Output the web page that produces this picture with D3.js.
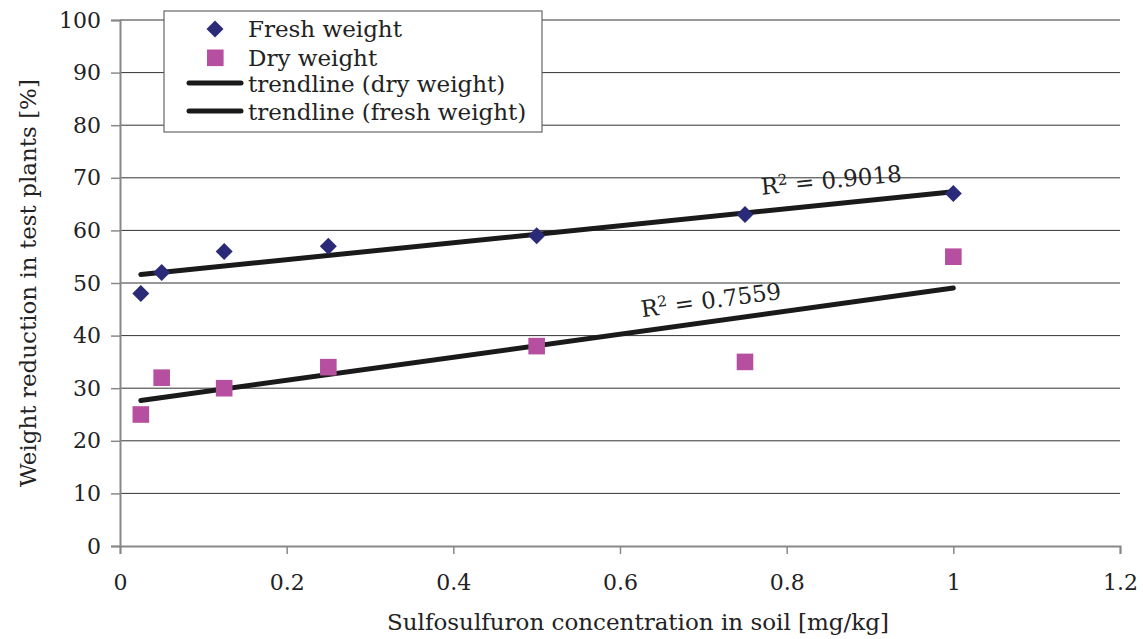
<!DOCTYPE html>
<html><head><meta charset="utf-8">
<script src="https://cdn.jsdelivr.net/npm/d3@7"></script>
<style>body{margin:0;background:#fff}</style>
</head><body><svg id="c" width="1143" height="639"></svg>
<script>
const concentrations = [0.025, 0.05, 0.125, 0.25, 0.5, 0.75, 1.0];
const freshWeight = [48, 52, 56, 57, 59, 63, 67];
const dryWeight = [25, 32, 30, 34, 38, 35, 55];
const xTicks = [0, 0.2, 0.4, 0.6, 0.8, 1, 1.2];
const yTicks = [0,10,20,30,40,50,60,70,80,90,100];
const r2Fresh = "0.9018", r2Dry = "0.7559";

const svg = d3.select("#c");
const L=120, R=1120, T=20, B=546;
const x = d3.scaleLinear().domain([0,1.2]).range([L,R]);
const y = d3.scaleLinear().domain([0,100]).range([B,T]);
const font = "DejaVu Serif";
const ink = "#222";

// gridlines
svg.append("g").selectAll("line").data(yTicks.filter(d=>d>0)).join("line")
  .attr("x1",L).attr("x2",R).attr("y1",d=>y(d)).attr("y2",d=>y(d))
  .attr("stroke","#333").attr("stroke-width",1);

// axes
const yAx = svg.append("g").attr("transform",`translate(${L},0)`)
  .call(d3.axisLeft(y).tickValues(yTicks).tickSize(9).tickPadding(10).tickFormat(d3.format("d")));
const xAx = svg.append("g").attr("transform",`translate(0,${B})`)
  .call(d3.axisBottom(x).tickValues(xTicks).tickSize(8).tickPadding(20).tickFormat(d=>d===0?"0":d===1?"1":d3.format(".1f")(d)));
[yAx,xAx].forEach(g=>{
  g.select(".domain").attr("stroke","#888").attr("stroke-width",2);
  g.selectAll(".tick line").attr("stroke","#888").attr("stroke-width",1.5);
  g.selectAll("text").attr("font-family",font).attr("font-size",22).attr("fill",ink);
});

// regression
function reg(xs, ys){
  const mx=d3.mean(xs), my=d3.mean(ys);
  let sxy=0,sxx=0; xs.forEach((v,i)=>{sxy+=(v-mx)*(ys[i]-my);sxx+=(v-mx)*(v-mx);});
  const m=sxy/sxx; return {m, b:my-m*mx};
}
const x0=d3.min(concentrations), x1=d3.max(concentrations);
[freshWeight, dryWeight].forEach(ys=>{
  const r=reg(concentrations,ys);
  svg.append("line").attr("x1",x(x0)).attr("x2",x(x1))
    .attr("y1",y(r.m*x0+r.b)).attr("y2",y(r.m*x1+r.b))
    .attr("stroke","#1a1a1a").attr("stroke-width",5).attr("stroke-linecap","round");
});

// points
const pts = concentrations.map((c,i)=>({c,f:freshWeight[i],d:dryWeight[i]}));
svg.append("g").selectAll("path").data(pts).join("path")
  .attr("d",d=>`M${x(d.c)},${y(d.f)-8.5}l8.5,8.5l-8.5,8.5l-8.5,-8.5z`).attr("fill","#2a2a78");
svg.append("g").selectAll("rect").data(pts).join("rect")
  .attr("x",d=>x(d.c)-8.3).attr("y",d=>y(d.d)-8.3).attr("width",16.6).attr("height",16.6).attr("fill","#b64f9f");

// R² labels
function r2(label,cx,cy,ang){
  const t=svg.append("text").attr("font-family",font).attr("font-size",23).attr("fill",ink)
    .attr("transform",`translate(${cx},${cy}) rotate(${ang})`).attr("text-anchor","middle");
  t.append("tspan").text("R");
  t.append("tspan").text("2").attr("font-size",15).attr("dy",-8);
  t.append("tspan").text(" = "+label).attr("dy",8);
}
r2(r2Fresh,832,188,-5.5);
r2(r2Dry,712,308,-7.5);

// legend
const lg = svg.append("g");
lg.append("rect").attr("x",164).attr("y",11).attr("width",378).attr("height",121)
  .attr("fill","#fff").attr("stroke","#666").attr("stroke-width",1.2);
lg.append("path").attr("d","M215,20.5l8.5,8.5l-8.5,8.5l-8.5,-8.5z").attr("fill","#2a2a78");
lg.append("rect").attr("x",207).attr("y",49.5).attr("width",16.6).attr("height",16.6).attr("fill","#b64f9f");
[83,111].forEach(yy=>lg.append("line").attr("x1",189).attr("x2",241).attr("y1",yy).attr("y2",yy)
  .attr("stroke","#1a1a1a").attr("stroke-width",5).attr("stroke-linecap","round"));
const items=["Fresh weight","Dry weight","trendline (dry weight)","trendline (fresh weight)"];
lg.selectAll("text").data(items).join("text").attr("x",248).attr("y",(d,i)=>[37,66,92,120][i])
  .attr("font-family",font).attr("font-size",23).attr("fill",ink).text(d=>d);

// axis titles
svg.append("text").attr("x",638).attr("y",630).attr("text-anchor","middle").attr("fill",ink)
  .attr("font-family",font).attr("font-size",23).text("Sulfosulfuron concentration in soil [mg/kg]");
svg.append("text").attr("transform","translate(36,283) rotate(-90)").attr("text-anchor","middle").attr("fill",ink)
  .attr("font-family",font).attr("font-size",23).text("Weight reduction in test plants [%]");
</script></body></html>
